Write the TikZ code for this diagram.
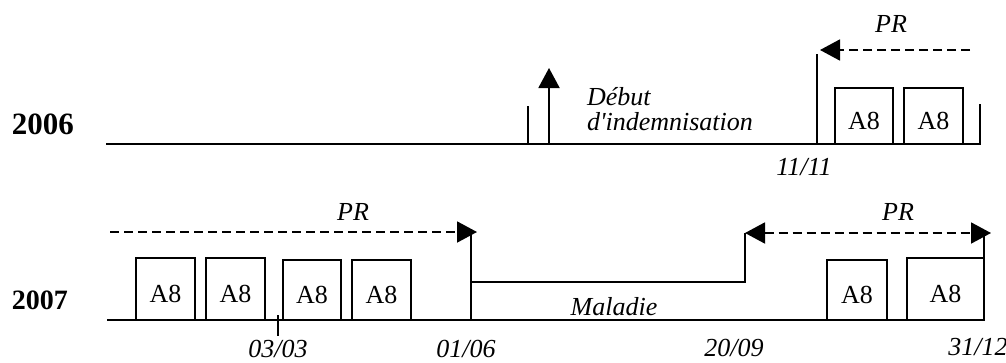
\documentclass[tikz,border=0pt]{standalone}
\usepackage{fontspec}
\setmainfont{Liberation Serif}
\newfontfamily\dfont{Liberation Serif}
\usetikzlibrary{arrows.meta}
\begin{document}
\begin{tikzpicture}[x=1pt,y=-1pt,
  every node/.style={inner sep=0pt, outer sep=0pt},
  ln/.style={line width=1.9pt},
  dsh/.style={line width=1.9pt, dash pattern=on 9pt off 5pt},
  arr/.style={-{Triangle[length=20pt,width=21pt]}},
  darr/.style={{Triangle[length=20pt,width=21pt]}-{Triangle[length=20pt,width=21pt]}},
  abox/.style={draw, line width=1.9pt, anchor=south west, text height=27pt, text depth=0pt,
    font=\fontsize{26}{30}\selectfont},
  lab/.style={font=\itshape\fontsize{26}{30}\selectfont, anchor=base},
]
\useasboundingbox (0,0) rectangle (1006,362);

% ---------- 2006 ----------
\node[font=\bfseries\fontsize{31}{34}\selectfont] (y06) at (43,124) {2006};
\coordinate (l06a) at (106,144);
\coordinate (l06b) at (981,144);
\draw[ln] (l06a) -- (l06b);

\coordinate (t1b) at (528,144); \coordinate (t1t) at (528,106);
\draw[ln] (t1b) -- (t1t);
\coordinate (ab) at (549,144); \coordinate (at) at (549,68);
\draw[ln,arr] (ab) -- (at);

\node[anchor=base west, font=\dfont\itshape\fontsize{26}{25}\selectfont] (debut) at (587,105)
  {\begin{tabular}[t]{@{}l@{}}Début\\d'indemnisation\end{tabular}};

\coordinate (v11b) at (817,144); \coordinate (v11t) at (817,54);
\draw[ln] (v11b) -- (v11t);
\coordinate (pr1s) at (970,50); \coordinate (pr1e) at (820,50);
\draw[dsh,arr] (pr1s) -- (pr1e);
\node[lab] (pr1) at (891,32) {PR};
\node[lab] (d1111) at (804,175) {11/11};

\node[abox, minimum width=58pt, minimum height=56pt] (b1) at (835,144) {A8};
\node[abox, minimum width=59pt, minimum height=56pt] (b2) at (904,144) {A8};
\coordinate (rtb) at (980,144); \coordinate (rtt) at (980,104);
\draw[ln] (rtb) -- (rtt);

% ---------- 2007 ----------
\node[font=\bfseries\fontsize{28}{32}\selectfont] (y07) at (40,300) {2007};
\coordinate (l07a) at (107,320);
\coordinate (l07b) at (982,320);
\draw[ln] (l07a) -- (l07b);

\coordinate (t3t) at (278,315); \coordinate (t3b) at (278,336);
\draw[ln] (t3t) -- (t3b);

\node[abox, minimum width=59pt, minimum height=62pt] (c1) at (136,320) {A8};
\node[abox, minimum width=59pt, minimum height=62pt] (c2) at (206,320) {A8};
\node[abox, minimum width=58pt, minimum height=60pt] (c3) at (283,320) {A8};
\node[abox, minimum width=59pt, minimum height=60pt] (c4) at (352,320) {A8};

\coordinate (v01b) at (471,320); \coordinate (v01t) at (471,232);
\draw[ln] (v01b) -- (v01t);
\coordinate (pr2s) at (110,232); \coordinate (pr2e) at (477,232);
\draw[dsh,arr] (pr2s) -- (pr2e);
\node[lab] (pr2) at (353,220) {PR};

\coordinate (m1) at (471,282); \coordinate (m2) at (745,282); \coordinate (m3) at (745,233);
\draw[ln] (m1) -- (m2) -- (m3);
\node[lab] (mal) at (614,315) {Maladie};

\coordinate (pr3s) at (745,233); \coordinate (pr3e) at (991,233);
\draw[dsh,darr] (pr3s) -- (pr3e);
\node[lab] (pr3) at (898,220) {PR};

\node[abox, minimum width=60pt, minimum height=60pt] (c5) at (827,320) {A8};
\node[abox, minimum width=77pt, minimum height=62pt] (c6) at (907,320) {A8};
\coordinate (v31b) at (984,320); \coordinate (v31t) at (984,233);
\draw[ln] (v31b) -- (v31t);

\node[lab] (d0303) at (278,357) {03/03};
\node[lab] (d0106) at (466,357) {01/06};
\node[lab] (d2009) at (734,356) {20/09};
\node[lab] (d3112) at (978,355) {31/12};
\end{tikzpicture}
\end{document}
